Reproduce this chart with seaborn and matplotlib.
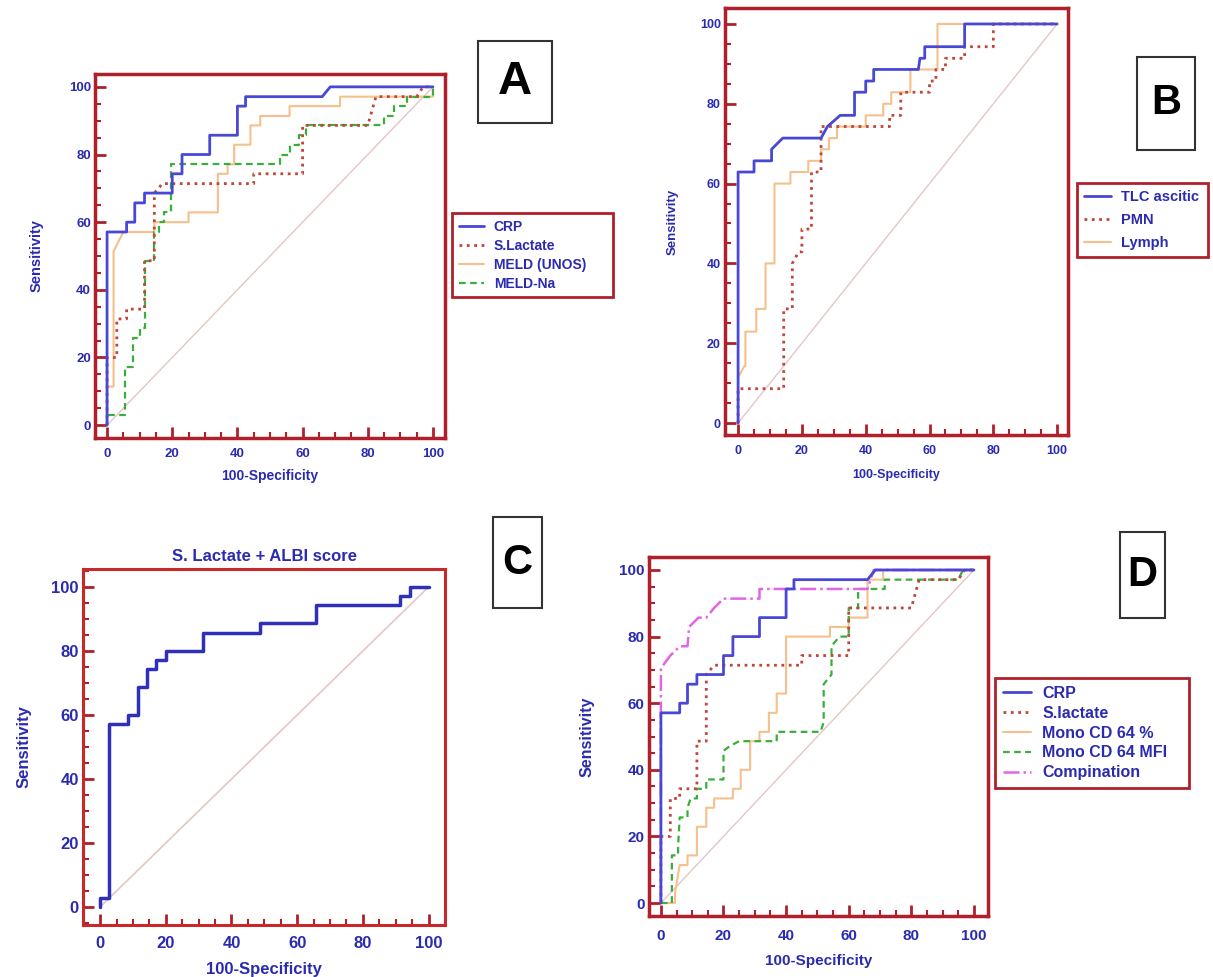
import matplotlib
matplotlib.use("Agg")
import matplotlib.pyplot as plt
from matplotlib.patches import Rectangle
from matplotlib.ticker import MultipleLocator
import seaborn as sns

# ROC step curves (100-specificity, sensitivity)
crp_x = [0, 0, 6, 6, 8.5, 8.5, 11.5, 11.5, 20, 20, 23, 23, 31.5, 31.5, 40, 40, 42.5, 42.5, 66, 68.5, 100]
crp_y = [0, 57.1, 57.1, 60, 60, 65.7, 65.7, 68.6, 68.6, 74.3, 74.3, 80, 80, 85.7, 85.7, 94.3, 94.3, 97.1, 97.1, 100, 100]

lac_x = [0, 0, 3, 3, 6, 6, 11.5, 11.5, 14.5, 14.5, 17, 45, 45, 60, 60, 80, 82.5, 95, 97, 100]
lac_y = [0, 20, 20, 31.4, 31.4, 34.3, 34.3, 48.6, 48.6, 68.6, 71.4, 71.4, 74.3, 74.3, 88.6, 88.6, 97.1, 97.1, 100, 100]

meld_x = [0, 0, 2, 2, 3.5, 5, 14.5, 14.5, 25, 25, 34, 34, 37, 37, 39, 39, 44, 44, 47, 47, 56, 56, 71.5, 71.5, 100, 100]
meld_y = [0, 11.4, 11.4, 51.4, 54.3, 57.1, 57.1, 60, 60, 62.9, 62.9, 74.3, 74.3, 77.1, 77.1, 82.9, 82.9, 88.6, 88.6, 91.4, 91.4, 94.3, 94.3, 97.1, 97.1, 100]

na_x = [0, 0, 5.5, 5.5, 8, 8, 10, 10, 11.5, 11.5, 14.5, 14.5, 16, 16, 17.5, 17.5, 19.5, 19.5,
        53, 53, 56, 56, 59, 59, 61, 61, 81, 85, 85, 88, 88, 92, 92, 100, 100]
na_y = [0, 2.9, 2.9, 17.1, 17.1, 25.7, 25.7, 28.6, 28.6, 48.6, 48.6, 57.1, 57.1, 60, 60, 62.9, 62.9, 77.1,
        77.1, 80, 80, 82.9, 82.9, 85.7, 85.7, 88.6, 88.6, 88.6, 91.4, 91.4, 94.3, 94.3, 97.1, 97.1, 100]

tlc_x = [0, 0, 5, 5, 10.5, 10.5, 14, 26, 28, 32, 36.5, 36.5, 40, 40, 42.5, 42.5, 56.5, 57, 58.5, 58.5, 71, 71, 100]
tlc_y = [0, 62.9, 62.9, 65.7, 65.7, 68.6, 71.4, 71.4, 74.3, 77.1, 77.1, 82.9, 82.9, 85.7, 85.7, 88.6, 88.6, 91.4, 91.4, 94.3, 94.3, 100, 100]

pmn_x = [0, 0, 14.3, 14.3, 17, 17, 19, 20, 20, 23, 23, 26, 26, 47.5, 47.5, 51, 51, 60, 60, 62, 62, 65, 65, 71, 71, 80, 80, 100]
pmn_y = [0, 8.6, 8.6, 28.6, 28.6, 40, 42.9, 42.9, 48.6, 48.6, 62.9, 62.9, 74.3, 74.3, 77.1, 77.1, 82.9, 82.9, 85.7, 85.7, 88.6, 88.6, 91.4, 91.4, 94.3, 94.3, 100, 100]

lym_x = [0, 0, 2, 2.3, 2.3, 5.7, 5.7, 8.6, 8.6, 11.4, 11.4, 16.4, 16.4, 22, 22, 26, 26, 28.5, 28.5, 31,
         31, 40, 40, 45.5, 45.5, 48, 48, 54, 54, 62.5, 62.5, 100]
lym_y = [0, 11.4, 14.3, 14.3, 22.9, 22.9, 28.6, 28.6, 40, 40, 60, 60, 62.9, 62.9, 65.7, 65.7, 68.6, 68.6, 71.4, 71.4,
         74.3, 74.3, 77.1, 77.1, 80, 80, 82.9, 82.9, 88.6, 88.6, 100, 100]

albi_x = [0, 0, 2.8, 2.8, 8.6, 8.6, 11.4, 11.4, 14.3, 14.3, 17.1, 17.1, 20, 20, 31.4, 31.4, 48.6, 48.6, 65.7, 65.7, 91.4, 91.4, 94.3, 94.3, 100]
albi_y = [0, 2.9, 2.9, 57.1, 57.1, 60, 60, 68.6, 68.6, 74.3, 74.3, 77.1, 77.1, 80, 80, 85.7, 85.7, 88.6, 88.6, 94.3, 94.3, 97.1, 97.1, 100, 100]

pct_x = [0, 4.5, 4.5, 6, 8.5, 8.5, 11.5, 11.5, 14.5, 14.5, 17, 17, 23, 23, 25.5, 25.5, 28.5, 28.5, 31.5, 31.5,
         34.5, 34.5, 37, 37, 40, 40, 54, 54, 60, 60, 66, 66, 71, 71, 100]
pct_y = [0, 0, 2.9, 11.4, 11.4, 14.3, 14.3, 22.9, 22.9, 28.6, 28.6, 31.4, 31.4, 34.3, 34.3, 40, 40, 48.6, 48.6, 51.4,
         51.4, 57.1, 57.1, 62.9, 62.9, 80, 80, 82.9, 82.9, 85.7, 85.7, 97.1, 97.1, 100, 100]

mfi_x = [0, 3.5, 3.5, 5.5, 5.5, 6, 8.5, 8.5, 9.5, 11.5, 11.5, 14.5, 14.5, 20, 20, 22, 25, 37, 37, 51,
         52, 52, 54.5, 54.5, 57, 60, 60, 63, 63, 71.5, 71.5, 95, 96.5, 100]
mfi_y = [0, 0, 14.3, 14.3, 17.1, 25.7, 25.7, 28.6, 31.4, 31.4, 34.3, 34.3, 37.1, 37.1, 45.7, 47.1, 48.6, 48.6, 51.4, 51.4,
         54.3, 65.7, 68.6, 77.1, 80, 80, 88.6, 88.6, 94.3, 94.3, 97.1, 97.1, 100, 100]

comb_x = [0, 0, 3, 6, 8.5, 9, 12, 14.5, 17, 20, 31.5, 31.5, 66, 68, 100]
comb_y = [0, 70.5, 74.3, 77.1, 77.1, 82.9, 85.7, 85.7, 88.6, 91.4, 91.4, 94.3, 94.3, 100, 100]

diag = [0, 100]

ticks = [0, 20, 40, 60, 80, 100]

sns.set_theme(style="white")
plt.rcParams['font.family'] = ['Liberation Sans', 'DejaVu Sans']

FRAME = '#b0202a'
TXT = '#2b2bb0'
BLUE = '#4848d4'
RED = '#c0453a'
PEACH = '#f5c08c'
GREEN = '#3aae3a'
MAG = '#e066e6'
DIAG = '#e4c6c6'

W, H = 1213, 977
fig = plt.figure(figsize=(W / 100, H / 100), dpi=100)
fig.patch.set_facecolor('white')


def make_axes(box, xlim, ylim, tfs, xfs, yfs, xpad, ylpad):
    x0, y0, x1, y1 = box
    ax = fig.add_axes([x0 / W, 1 - y1 / H, (x1 - x0) / W, (y1 - y0) / H])
    ax.set_xlim(*xlim)
    ax.set_ylim(*ylim)
    ax.set_xticks(ticks)
    ax.set_yticks(ticks)
    ax.xaxis.set_minor_locator(MultipleLocator(5))
    ax.yaxis.set_minor_locator(MultipleLocator(5))
    ax.tick_params(which='major', direction='in', length=8, width=2, color=FRAME,
                   left=True, bottom=True, top=False, right=False,
                   labelcolor=TXT, labelsize=tfs)
    ax.tick_params(axis='x', which='major', pad=7)
    ax.tick_params(axis='y', which='major', pad=3)
    ax.tick_params(which='minor', direction='in', length=4, width=1.5, color=FRAME,
                   left=True, bottom=True, top=False, right=False)
    for lab in ax.get_xticklabels() + ax.get_yticklabels():
        lab.set_fontweight('bold')
    for sp in ax.spines.values():
        sp.set_color(FRAME)
        sp.set_linewidth(2.5)
    ax.set_xlabel('100-Specificity', color=TXT, fontsize=xfs, fontweight='bold', labelpad=xpad)
    ax.set_ylabel('Sensitivity', color=TXT, fontsize=yfs, fontweight='bold', labelpad=ylpad)
    ax.grid(False)
    return ax


def curve(ax, xs, ys, color, lw, ls='-', label=None):
    sns.lineplot(x=xs, y=ys, ax=ax, sort=False, estimator=None, color=color,
                 linewidth=lw, linestyle=ls, label=label, legend=False)


def ordered_legend(ax, order, box, fs, spacing, hlen=1.8):
    lines = {l.get_label(): l for l in ax.get_lines()}
    handles = [lines[n] for n in order]
    x0, y0, x1, y1 = box
    leg = ax.legend(handles=handles, labels=order,
                    loc='upper left', bbox_to_anchor=(x0 / W, 1 - y0 / H, (x1 - x0) / W, 0),
                    bbox_transform=fig.transFigure, mode='expand', borderaxespad=0,
                    fontsize=fs, labelspacing=spacing, handlelength=hlen, handletextpad=0.7,
                    borderpad=0.5, fancybox=False, framealpha=1)
    leg.get_frame().set_edgecolor(FRAME)
    leg.get_frame().set_linewidth(2)
    for t in leg.get_texts():
        t.set_color(TXT)
        t.set_fontweight('bold')


def letter_box(box, letter, fs):
    x0, y0, x1, y1 = box
    fig.add_artist(Rectangle((x0 / W, 1 - y1 / H), (x1 - x0) / W, (y1 - y0) / H,
                             transform=fig.transFigure, facecolor='white',
                             edgecolor='#333333', linewidth=1.5))
    fig.text((x0 + x1) / 2 / W, 1 - (y0 + y1) / 2 / H, letter, ha='center', va='center',
             fontsize=fs, fontweight='bold', color='black')


# Panel A
axA = make_axes((95, 74, 445, 438), (-3.7, 103.7), (-3.8, 103.8), 9.5, 10, 10.5, 7, 18)
curve(axA, diag, diag, DIAG, 1)
curve(axA, meld_x, meld_y, PEACH, 1.5, '-', 'MELD (UNOS)')
curve(axA, na_x, na_y, GREEN, 1.6, (0, (3, 2)), 'MELD-Na')
curve(axA, lac_x, lac_y, RED, 2, ':', 'S.Lactate')
curve(axA, crp_x, crp_y, BLUE, 2, '-', 'CRP')

# Panel B
axB = make_axes((725, 8, 1068, 435), (-4.1, 103.4), (-3, 104), 9, 9, 9.5, 9, 15)
curve(axB, diag, diag, DIAG, 1)
curve(axB, lym_x, lym_y, PEACH, 1.5, '-', 'Lymph')
curve(axB, pmn_x, pmn_y, RED, 2, ':', 'PMN')
curve(axB, tlc_x, tlc_y, BLUE, 2, '-', 'TLC ascitic')

# Panel C
axC = make_axes((83, 569, 445, 925), (-5.2, 105), (-5.6, 105.6), 12, 12, 12, 8, 14)
axC.tick_params(axis='x', which='major', pad=8)
curve(axC, diag, diag, DIAG, 1.2)
curve(axC, albi_x, albi_y, '#2f2fb8', 2.5)
axC.set_title('S. Lactate + ALBI score', color=TXT, fontsize=12, fontweight='bold', pad=6)
for sp in axC.spines.values():
    sp.set_color('#c82828')
    sp.set_linewidth(2.2)

# Panel D
axD = make_axes((649, 557, 988, 916), (-3.8, 104.5), (-3.9, 103.9), 11, 11, 11.5, 8, 18)
axD.tick_params(axis='x', which='major', pad=9)
curve(axD, diag, diag, DIAG, 1)
curve(axD, pct_x, pct_y, PEACH, 1.5, '-', 'Mono CD 64 %')
curve(axD, mfi_x, mfi_y, GREEN, 1.6, (0, (3, 2)), 'Mono CD 64 MFI')
curve(axD, lac_x, lac_y, RED, 2, ':', 'S.lactate')
curve(axD, comb_x, comb_y, MAG, 1.8, '-.', 'Compination')
curve(axD, crp_x, crp_y, BLUE, 2, '-', 'CRP')

ordered_legend(axA, ['CRP', 'S.Lactate', 'MELD (UNOS)', 'MELD-Na'], (452, 213, 613, 297), 10, 0.35)
ordered_legend(axB, ['TLC ascitic', 'PMN', 'Lymph'], (1077, 183, 1208, 260), 10.5, 0.6)
ordered_legend(axD, ['CRP', 'S.lactate', 'Mono CD 64 %', 'Mono CD 64 MFI', 'Compination'],
               (995, 678, 1189, 795), 11.5, 0.3, hlen=1.75)

letter_box((478, 41, 552, 123), 'A', 34)
letter_box((1137, 57, 1195, 150), 'B', 30)
letter_box((493, 517, 542, 608), 'C', 30)
letter_box((1120, 532, 1165, 618), 'D', 30)

fig.savefig('out.png', dpi=100, facecolor='white')
